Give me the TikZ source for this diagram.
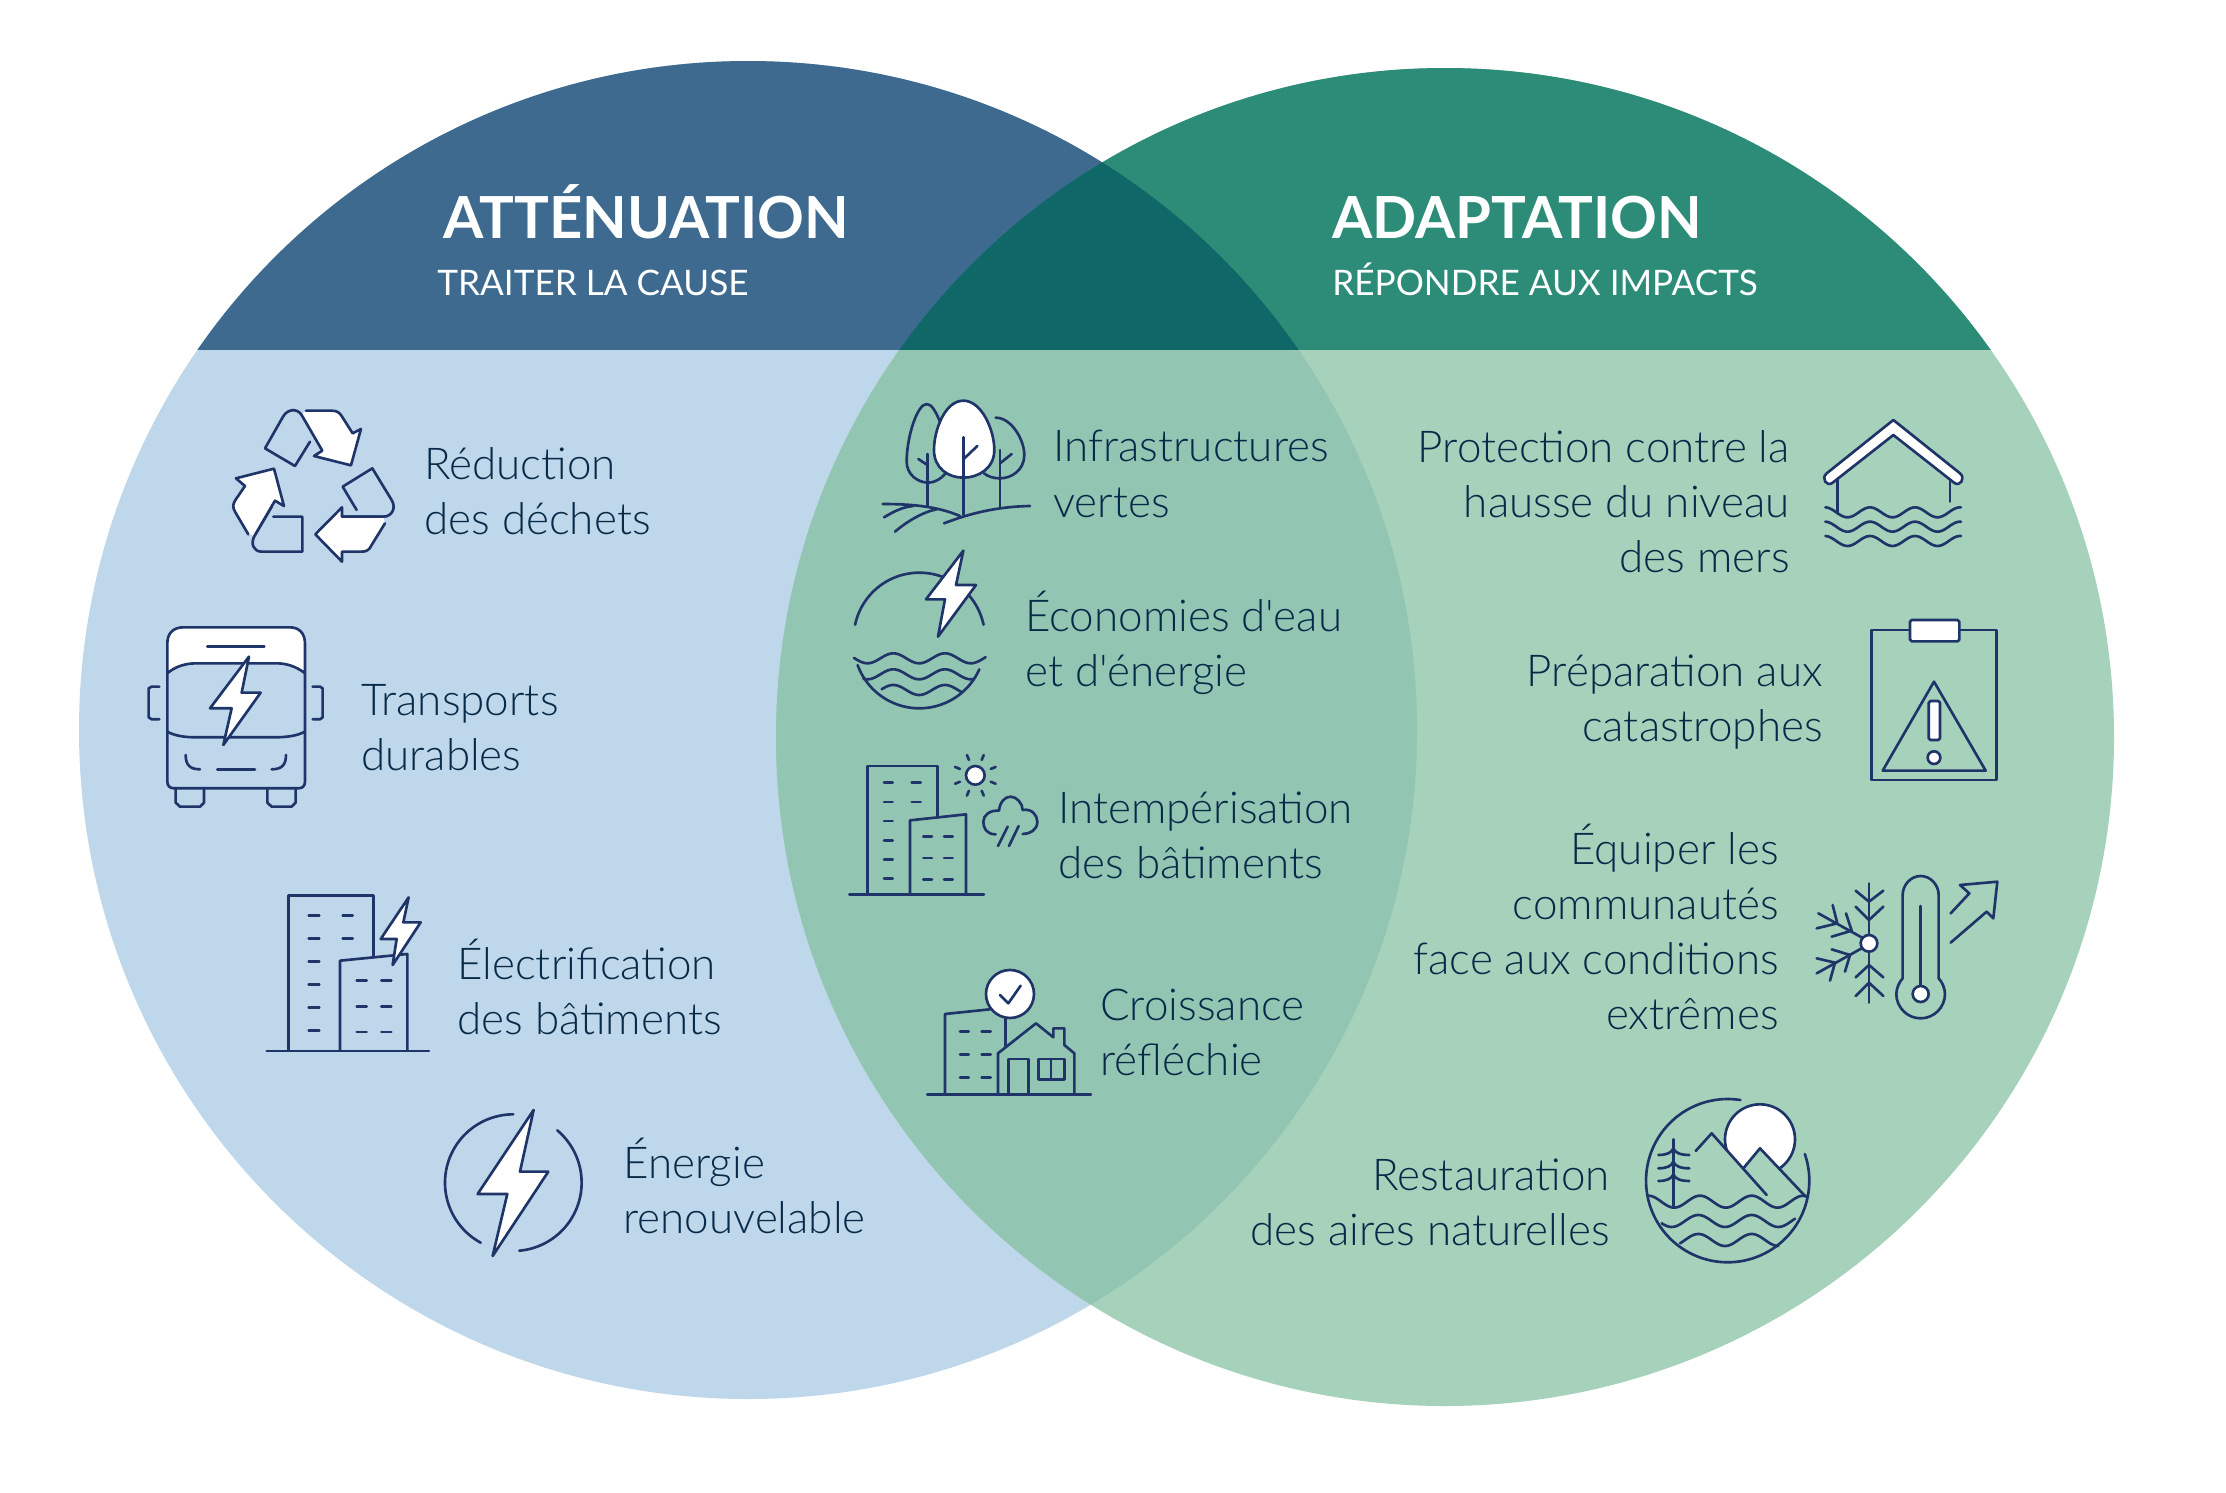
\documentclass[tikz,border=0pt]{standalone}
\usepackage{fontspec}
\setmainfont{Lato Light}[Ligatures=TeXOff]
\newfontfamily\titlefont{Lato Bold}
\newfontfamily\subtitlefont{Lato}
\definecolor{LeftDark}{HTML}{3D6A8E}
\definecolor{LeftPale}{HTML}{BFD7EA}
\definecolor{RightDark}{HTML}{2C8C78}
\definecolor{RightPale}{HTML}{A6D1BA}
\definecolor{BothDark}{HTML}{0F6767}
\definecolor{BothPale}{HTML}{93C5B3}
\definecolor{InkText}{HTML}{072A48}
\definecolor{InkIcon}{HTML}{1F3468}
\tikzset{Label/.style={%
    text=InkText,%
    font=\fontsize{25}{31.4}\selectfont,%
    inner sep=0pt,%
    anchor=west,%
    align=left,%
}}
\tikzset{LabelFlip/.style={%
    Label,%
    anchor=east,%
    align=right,%
}}
\tikzset{Heading/.style={%
    text=white,%
    font=\titlefont\fontsize{33}{40}\selectfont,%
    inner sep=0pt,%
    anchor=base west,%
}}
\tikzset{SubHeading/.style={%
    text=white,%
    font=\subtitlefont\fontsize{20}{24}\selectfont,%
    inner sep=0pt,%
    anchor=base west,%
}}
\tikzset{IconLine/.style={%
    draw=InkIcon,%
    line width=1.5pt,%
    line cap=round,%
    line join=round,%
}}
\tikzset{IconFill/.style={%
    IconLine,%
    fill=white,%
}}
\NewDocumentCommand{\iconWave}{m m m m m m}{%
    \draw[IconLine] plot[smooth, domain=#1:#2, samples=60]
        (\x, {#3-#4*cos(360/#6*(\x-#5))});%
}
\NewDocumentCommand{\iconArc}{m m m m m}{%
    \draw[IconLine] plot[smooth, domain=#4:#5, samples=50]
        ({#1+#3*cos(\x)}, {#2+#3*sin(\x)});%
}
\NewDocumentCommand{\iconDashes}{m m m}{%
    \foreach \yy in {#3} {\draw[IconLine] (#1,\yy) -- (#2,\yy);}%
}
\begin{document}
\begin{tikzpicture}[x=0.02cm, y=-0.02cm]
    \useasboundingbox (0,0) rectangle (2226,1492);

    \fill[LeftPale] (748,730) circle[radius=669];
    \fill[RightPale] (1445,737) circle[radius=669];
    \begin{scope}
        \clip (748,730) circle[radius=669];
        \fill[BothPale] (1445,737) circle[radius=669];
    \end{scope}
    \begin{scope}
        \clip (0,0) rectangle (2226,349);
        \fill[LeftDark] (748,730) circle[radius=669];
        \fill[RightDark] (1445,737) circle[radius=669];
        \clip (748,730) circle[radius=669];
        \fill[BothDark] (1445,737) circle[radius=669];
    \end{scope}

    \node[Heading] (attenuation) at (443,238) {ATTÉNUATION};
    \node[SubHeading] (cause) at (437,295) {TRAITER LA CAUSE};
    \node[Heading] (adaptation) at (1332,238) {ADAPTATION};
    \node[SubHeading] (impacts) at (1332,295) {RÉPONDRE AUX IMPACTS};

    \node[Label] (dechets) at (424,491) {Réduction\\des déchets};
    \node[Label] (transports) at (361,728) {Transports\\durables};
    \node[Label] (electrification) at (457,987) {Électrification\\des bâtiments};
    \node[Label] (energie) at (623,1186) {Énergie\\renouvelable};
    \node[Label] (vertes) at (1053,474) {Infrastructures\\vertes};
    \node[Label] (economies) at (1025,643) {Économies d'eau\\et d'énergie};
    \node[Label] (intemperisation) at (1058,835) {Intempérisation\\des bâtiments};
    \node[Label] (croissance) at (1100,1032) {Croissance\\réfléchie};
    \node[LabelFlip] (protection) at (1790,502) {Protection contre la\\hausse du niveau\\des mers};
    \node[LabelFlip] (preparation) at (1823,702) {Préparation aux\\catastrophes};
    \node[LabelFlip] (communautes) at (1779,927) {Équiper les\\communautés\\face aux conditions\\extrêmes};
    \node[LabelFlip] (restauration) at (1610,1202) {Restauration\\des aires naturelles};

    \begin{scope}[shift={(130,380)}, scale=0.3333]
        \draw[IconFill] (528,92) -- (605,92) .. controls (620,92) and (628,97) .. (635,108) -- (668,160) -- (693,147) -- (663,256) -- (552,228) -- (577,212) -- (515,105);
        \draw[IconLine] (540,185) -- (495,258) -- (405,205) -- (458,112) .. controls (470,88) and (500,82) .. (515,105);
        \draw[IconLine] (680,390) -- (638,320) -- (727,265) -- (785,360) .. controls (800,385) and (785,410) .. (760,410) -- (640,410);
        \draw[IconFill] (765,430) -- (725,495) .. controls (718,510) and (710,515) .. (695,515) -- (636,515) -- (636,545) -- (556,463) -- (636,382) -- (636,410) -- (760,410);
        \draw[IconLine] (430,410) -- (517,410) -- (517,515) -- (395,515) .. controls (370,515) and (360,490) .. (375,465) -- (425,380);
        \draw[IconFill] (355,463) -- (315,395) .. controls (308,382) and (308,375) .. (315,362) -- (345,318) -- (318,295) -- (432,266) -- (462,378) -- (435,362) -- (375,465);

        \draw[IconFill] (112,880) -- (112,790) .. controls (112,760) and (130,742) .. (160,742) -- (480,742) .. controls (507,742) and (525,760) .. (525,790) -- (525,880) .. controls (500,860) and (470,850) .. (440,850) -- (200,850) .. controls (165,850) and (135,860) .. (112,880);
        \draw[IconLine] (112,880) -- (112,1205) .. controls (112,1218) and (120,1225) .. (132,1225) -- (505,1225) .. controls (518,1225) and (525,1218) .. (525,1205) -- (525,880);
        \draw[IconLine] (112,1055) .. controls (135,1068) and (165,1072) .. (200,1072) -- (430,1072) .. controls (470,1072) and (500,1068) .. (525,1055);
        \draw[IconLine] (232,800) -- (403,800);
        \draw[IconFill] (357,830) -- (240,985) -- (305,985) -- (280,1095) -- (392,938) -- (335,938) -- cycle;
        \draw[IconLine] (88,920) -- (65,920) -- (56,925) -- (56,1012) -- (65,1018) -- (88,1018);
        \draw[IconLine] (548,920) -- (570,920) -- (578,925) -- (578,1012) -- (570,1018) -- (548,1018);
        \draw[IconLine] (167,1125) .. controls (167,1155) and (180,1168) .. (210,1168);
        \draw[IconLine] (262,1168) -- (375,1168);
        \draw[IconLine] (425,1168) .. controls (455,1168) and (468,1155) .. (468,1125);
        \draw[IconLine] (137,1225) -- (137,1268) -- (150,1280) -- (210,1280) -- (222,1268) -- (222,1225);
        \draw[IconLine] (412,1225) -- (412,1268) -- (425,1280) -- (485,1280) -- (497,1268) -- (497,1225);
    \end{scope}

    \begin{scope}[shift={(250,870)}, scale=0.3333]
        \draw[IconLine] (115,540) -- (115,76) -- (370,76) -- (370,262);
        \draw[IconLine] (270,540) -- (270,272) -- (472,252) -- (472,540);
        \draw[IconLine] (50,543) -- (537,543);
        \iconDashes{176}{208}{137,206,275,344,413,482}
        \iconDashes{278}{308}{137,206}
        \iconDashes{320}{350}{332,409,486}
        \iconDashes{394}{424}{332,409,486}
        \draw[IconFill] (476,82) -- (392,207) -- (440,207) -- (428,285) -- (512,157) -- (460,157) -- cycle;

        \iconArc{790}{938}{205}{118.5}{270}
        \iconArc{790}{938}{205}{-50}{85}
        \draw[IconFill] (851,720) -- (683,972) -- (772,972) -- (728,1158) -- (895,905) -- (810,905) -- cycle;
    \end{scope}

    \begin{scope}[shift={(830,380)}, scale=0.3333]
        \draw[IconLine] (332,130) .. controls (318,95) and (305,72) .. (290,72) .. controls (262,72) and (230,170) .. (230,245) .. controls (230,285) and (265,308) .. (295,308) .. controls (315,308) and (335,295) .. (347,280);
        \draw[IconLine] (497,113) .. controls (545,113) and (583,180) .. (583,225) .. controls (583,270) and (545,295) .. (510,295) .. controls (490,295) and (475,290) .. (462,280);
        \draw[IconFill] (400,62) .. controls (345,62) and (312,150) .. (312,210) .. controls (312,265) and (355,293) .. (400,293) .. controls (445,293) and (493,265) .. (493,210) .. controls (493,150) and (455,62) .. (400,62);
        \draw[IconLine] (400,172) -- (400,405);
        \draw[IconLine] (400,238) -- (442,198);
        \draw[IconLine] (292,222) -- (292,378);
        \draw[IconLine] (292,255) -- (265,237);
        \draw[IconLine] (510,210) -- (510,380);
        \draw[IconLine] (510,250) -- (545,222);
        \draw[IconLine] (158,372) .. controls (240,372) and (320,378) .. (390,408);
        \draw[IconLine] (342,430) .. controls (420,400) and (500,380) .. (600,378);
        \draw[IconLine] (162,412) .. controls (190,395) and (220,380) .. (250,378);
        \draw[IconLine] (195,455) .. controls (230,425) and (280,395) .. (320,388);

        \iconArc{268}{775}{197}{-168}{-12}
        \draw[IconFill] (400,512) -- (288,658) -- (345,658) -- (324,770) -- (438,615) -- (378,615) -- cycle;
        \iconArc{268}{788}{197}{24}{160}
        \iconWave{72}{467}{835}{15}{190}{155}
        \iconWave{100}{432}{883}{15}{190}{155}
        \iconWave{155}{395}{930}{15}{190}{155}
    \end{scope}

    \begin{scope}[shift={(830,730)}, scale=0.3333]
        \draw[IconLine] (112,492) -- (112,108) -- (323,108) -- (323,262);
        \draw[IconLine] (240,492) -- (240,271) -- (408,253) -- (408,492);
        \draw[IconLine] (58,494) -- (462,494);
        \iconDashes{162}{188}{158,216,273,331,388,446}
        \iconDashes{245}{272}{158,216}
        \iconDashes{280}{306}{320,384,448}
        \iconDashes{342}{368}{320,384,448}
        \draw[IconFill] (436,136) circle[radius=28];
        \foreach \ang in {22.5,67.5,...,337.5} {
            \draw[IconLine] ({436+50*cos(\ang)},{136+50*sin(\ang)}) -- ({436+66*cos(\ang)},{136+66*sin(\ang)});
        }
        \draw[IconLine] (497,313) .. controls (470,313) and (460,295) .. (460,275) .. controls (460,255) and (480,240) .. (507,242) .. controls (510,215) and (525,200) .. (542,200) .. controls (560,200) and (578,220) .. (578,240) .. controls (605,235) and (622,255) .. (622,275) .. controls (622,300) and (600,312) .. (578,312);
        \draw[IconLine] (533,290) -- (504,348);
        \draw[IconLine] (566,288) -- (537,348);

        \draw[IconLine] (345,1092) -- (345,852) -- (480,838);
        \draw[IconLine] (527,865) -- (527,950);
        \draw[IconFill] (540,792) circle[radius=72];
        \draw[IconLine] (510,795) -- (535,820) -- (572,767);
        \iconDashes{390}{416}{905,973,1042}
        \iconDashes{455}{482}{905,973,1042}
        \draw[IconLine] (504,1092) -- (504,970) -- (618,880) -- (670,922) -- (670,895) -- (703,895) -- (703,945) -- (733,970) -- (733,1092);
        \draw[IconLine] (535,1092) -- (535,987) -- (595,987) -- (595,1092);
        \draw[IconLine] (625,987) rectangle (703,1048);
        \draw[IconLine] (663,987) -- (663,1048);
        \draw[IconLine] (292,1093) -- (783,1093);
    \end{scope}

    \begin{scope}[shift={(1800,400)}, scale=0.3333]
        \draw[IconLine] (112,240) -- (112,340);
        \draw[IconLine] (450,245) -- (450,305);
        \draw[IconFill] (280,60) -- (480,220) .. controls (498,235) and (480,262) .. (462,248) -- (280,105) -- (98,248) .. controls (80,262) and (62,235) .. (80,220) -- cycle;
        \iconWave{76}{483}{337}{15}{210}{135}
        \iconWave{76}{483}{380}{15}{210}{135}
        \iconWave{76}{483}{423}{15}{210}{135}

        \draw[IconLine] (215,690) rectangle (590,1140);
        \draw[IconFill, rounded corners=1pt] (330,660) rectangle (478,724);
        \draw[IconLine] (402,845) -- (248,1112) -- (557,1112) -- cycle;
        \draw[IconFill, rounded corners=1pt] (386,903) rectangle (420,1020);
        \draw[IconFill] (402,1073) circle[radius=19];
    \end{scope}

    \begin{scope}[shift={(1630,860)}, scale=0.3333]
        \draw[IconLine] (717,70) -- (717,428);
        \draw[IconLine] (677,92) -- (717,125) -- (760,92);
        \draw[IconLine] (677,140) -- (717,180) -- (760,140);
        \draw[IconLine] (677,352) -- (717,315) -- (760,352);
        \draw[IconLine] (677,408) -- (717,368) -- (760,408);
        \draw[IconLine] (700,235) -- (565,160);
        \draw[IconLine] (608,135) -- (622,190) -- (560,205);
        \draw[IconLine] (648,160) -- (665,212) -- (605,230);
        \draw[IconLine] (695,265) -- (560,340);
        \draw[IconLine] (605,268) -- (660,285) -- (645,335);
        \draw[IconLine] (560,295) -- (615,308) -- (600,362);
        \draw[IconFill] (717,250) circle[radius=25];

        \draw[IconLine] (818,105) .. controls (818,75) and (842,48) .. (872,48) .. controls (902,48) and (926,75) .. (926,105) -- (926,355) .. controls (936,365) and (945,385) .. (945,402) .. controls (945,442) and (912,475) .. (872,475) .. controls (832,475) and (799,442) .. (799,402) .. controls (799,385) and (808,365) .. (818,355) -- cycle;
        \draw[IconLine] (872,138) -- (872,380);
        \draw[IconFill] (872,402) circle[radius=24];
        \draw[IconLine] (962,248) -- (1070,155) -- (1090,175) -- (1102,65) -- (990,75) -- (1018,100) -- (962,160);

        \iconArc{293}{962}{245}{-19}{279}
        \draw[IconFill] (390,838) circle[radius=105];
        \fill[RightPale] (245,820) -- (340,925) -- (390,865) -- (527,1010) -- (400,1040) -- (200,1040) -- cycle;
        \draw[IconLine] (197,873) -- (245,820) -- (410,1005);
        \draw[IconLine] (340,925) -- (390,865) -- (527,1010);
        \draw[IconLine] (130,838) -- (130,1040);
        \draw[IconLine] (85,885) .. controls (110,885) and (125,878) .. (130,865) .. controls (135,878) and (150,885) .. (178,885);
        \draw[IconLine] (85,925) .. controls (110,925) and (125,918) .. (130,905) .. controls (135,918) and (150,925) .. (178,925);
        \draw[IconLine] (85,963) .. controls (110,963) and (125,956) .. (130,943) .. controls (135,956) and (150,963) .. (178,963);
        \iconWave{55}{530}{1025}{18}{210}{155}
        \iconWave{95}{495}{1083}{18}{205}{160}
        \iconWave{150}{445}{1140}{18}{205}{160}
    \end{scope}
\end{tikzpicture}
\end{document}
